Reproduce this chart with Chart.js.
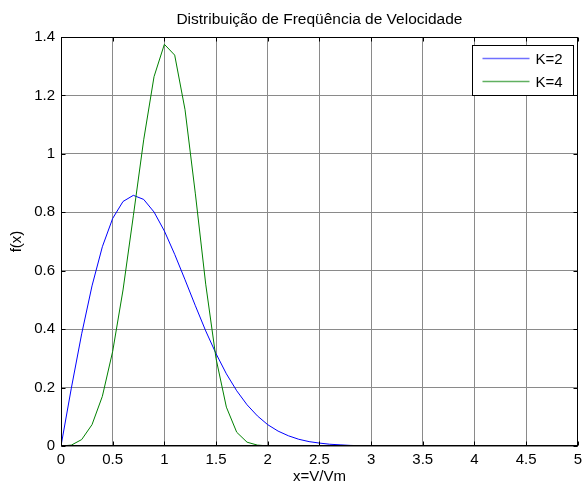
<!DOCTYPE html>
<html>
<head>
<meta charset="utf-8">
<script src="https://cdn.jsdelivr.net/npm/chart.js@4"></script>
<style>
  html, body { margin: 0; padding: 0; background: #fff; }
  #wrap { width: 587px; height: 486px; }
</style>
</head>
<body>
<div id="wrap"><canvas id="chart" width="587" height="486"></canvas></div>
<script>
/* ---------- DATA ---------- */
const xValues = [
  0, 0.1, 0.2, 0.3, 0.4, 0.5, 0.6, 0.7, 0.8, 0.9,
  1.0, 1.1, 1.2, 1.3, 1.4, 1.5, 1.6, 1.7, 1.8, 1.9,
  2.0, 2.1, 2.2, 2.3, 2.4, 2.5, 2.6, 2.7, 2.8, 2.9,
  3.0, 3.1, 3.2, 3.3, 3.4, 3.5, 3.6, 3.7, 3.8, 3.9,
  4.0, 4.1, 4.2, 4.3, 4.4, 4.5, 4.6, 4.7, 4.8, 4.9, 5.0
];
const k2Values = [
  0, 0.198, 0.384, 0.548, 0.682, 0.779, 0.837, 0.858, 0.844, 0.801,
  0.736, 0.656, 0.569, 0.480, 0.394, 0.316, 0.247, 0.189, 0.141, 0.103,
  0.073, 0.051, 0.035, 0.023, 0.015, 0.010, 0.006, 0.004, 0.002, 0.001,
  0.001, 0, 0, 0, 0, 0, 0, 0, 0, 0,
  0, 0, 0, 0, 0, 0, 0, 0, 0, 0, 0
];
const k4Values = [
  0, 0.003, 0.022, 0.073, 0.170, 0.324, 0.534, 0.788, 1.048, 1.264,
  1.375, 1.338, 1.151, 0.863, 0.554, 0.299, 0.133, 0.047, 0.013, 0.003,
  0.0004, 0, 0, 0, 0, 0, 0, 0, 0, 0,
  0, 0, 0, 0, 0, 0, 0, 0, 0, 0,
  0, 0, 0, 0, 0, 0, 0, 0, 0, 0, 0
];
const seriesLabels = ['K=2', 'K=4'];
const seriesColors = ['#0000ff', '#008000'];
const legendColors = ['#7070ff', '#60b060'];

const FONT = 'Liberation Sans, Arial, Helvetica, sans-serif';
const fmt = v => String(+Number(v).toFixed(2));

/* ---------- MATLAB-STYLE FRAME + INWARD TICKS ---------- */
const framePlugin = {
  id: 'frame',
  afterDraw(chart) {
    const { ctx, chartArea: a, scales: { x, y } } = chart;
    const L = Math.round(a.left) + 0.5, R = Math.round(a.right) - 0.5;
    const T = Math.round(a.top) + 0.5, B = Math.round(a.bottom) - 0.5;
    ctx.save();
    ctx.strokeStyle = '#000';
    ctx.lineWidth = 1;
    ctx.beginPath();
    x.ticks.forEach(t => {
      const px = Math.round(x.getPixelForValue(t.value)) + 0.5;
      ctx.moveTo(px, B); ctx.lineTo(px, B - 4);
      ctx.moveTo(px, T); ctx.lineTo(px, T + 4);
    });
    y.ticks.forEach(t => {
      const py = Math.round(y.getPixelForValue(t.value)) + 0.5;
      ctx.moveTo(L, py); ctx.lineTo(L + 4, py);
      ctx.moveTo(R, py); ctx.lineTo(R - 4, py);
    });
    ctx.stroke();
    ctx.strokeRect(L, T, R - L, B - T);

    /* legend box, top-right inside the axes */
    const bw = 101, bh = 50;
    const bx = Math.round(a.right) - 5 - bw + 0.5;
    const by = Math.round(a.top) + 8 + 0.5;
    ctx.fillStyle = '#fff';
    ctx.fillRect(bx, by, bw, bh);
    ctx.strokeRect(bx, by, bw, bh);
    ctx.font = '15px ' + FONT;
    ctx.textBaseline = 'middle';
    ctx.textAlign = 'left';
    chart.data.datasets.forEach((ds, i) => {
      const ly = by + 13 + i * 23;
      ctx.strokeStyle = legendColors[i];
      ctx.lineWidth = 1.5;
      ctx.beginPath();
      ctx.moveTo(bx + 10, ly); ctx.lineTo(bx + 57, ly);
      ctx.stroke();
      ctx.fillStyle = '#000';
      ctx.fillText(ds.label, bx + 63, ly + 1);
    });
    ctx.restore();
  }
};

/* ---------- CHART ---------- */
new Chart(document.getElementById('chart'), {
  type: 'line',
  data: {
    datasets: [k2Values, k4Values].map((vals, i) => ({
      label: seriesLabels[i],
      data: xValues.map((xv, j) => ({ x: xv, y: vals[j] })),
      borderColor: seriesColors[i],
      backgroundColor: seriesColors[i],
      borderWidth: 1,
      pointRadius: 0,
      tension: 0,
      fill: false,
      order: 2 - i
    }))
  },
  options: {
    responsive: false,
    animation: false,
    layout: { padding: { left: 0, right: 7, top: 0, bottom: 0 } },
    plugins: {
      legend: { display: false },
      tooltip: { enabled: false },
      title: {
        display: true,
        fullSize: false,
        text: 'Distribuição de Freqüência de Velocidade',
        color: '#000',
        font: { family: FONT, size: 15.5, weight: 'normal', lineHeight: 1.2 },
        padding: { top: 10, bottom: 8.4 }
      }
    },
    scales: {
      x: {
        type: 'linear',
        min: 0, max: 5,
        afterFit: s => { s.height = 40; },
        border: { display: false },
        grid: { color: '#8a8a8a', lineWidth: 1, drawTicks: false },
        ticks: {
          stepSize: 0.5, color: '#000', padding: 5, maxRotation: 0,
          font: { family: FONT, size: 15 },
          callback: v => fmt(v)
        },
        title: {
          display: true, text: 'x=V/Vm', color: '#000',
          font: { family: FONT, size: 15, lineHeight: 1.2 },
          padding: { top: 0, bottom: 0 }
        }
      },
      y: {
        min: 0, max: 1.4,
        afterFit: s => { s.width = 61; },
        border: { display: false },
        grid: { color: '#8a8a8a', lineWidth: 1, drawTicks: false },
        ticks: {
          stepSize: 0.2, color: '#000', padding: 6,
          font: { family: FONT, size: 15 },
          callback: v => fmt(v)
        },
        title: {
          display: true, text: 'f(x)', color: '#000',
          font: { family: FONT, size: 15, lineHeight: 1.2 },
          padding: { top: 8, bottom: 0 }
        }
      }
    }
  },
  plugins: [framePlugin]
});
</script>
</body>
</html>
